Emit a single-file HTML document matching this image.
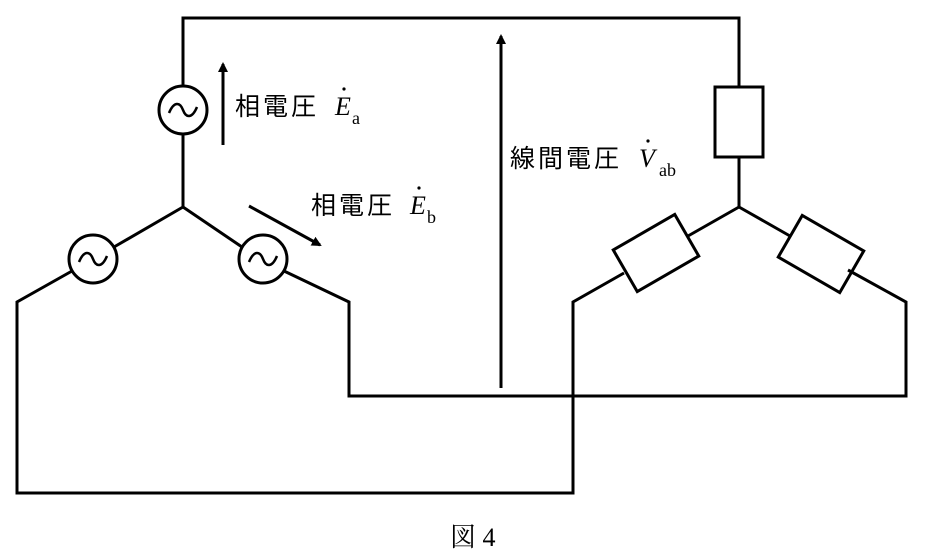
<!DOCTYPE html>
<html><head><meta charset="utf-8"><style>
html,body{margin:0;padding:0;background:#fff;}
svg{display:block;}
.jp{font-family:"Liberation Sans","Noto Sans CJK JP",sans-serif;font-size:25px;letter-spacing:3px;fill:#000;}
.m{font-family:"Liberation Serif","Noto Serif CJK SC",serif;font-style:italic;font-size:26px;fill:#000;}
.s{font-family:"Liberation Serif",serif;font-size:18px;fill:#000;}
</style></head><body>
<svg width="927" height="557" viewBox="0 0 927 557" xmlns="http://www.w3.org/2000/svg">
<defs><marker id="ah" markerWidth="10" markerHeight="10" refX="8" refY="5" orient="auto" markerUnits="userSpaceOnUse"><path d="M0,0 L10,5 L0,10 z" fill="#000"/></marker></defs>
<g fill="none" stroke="#000" stroke-width="3">
<polyline points="183,86 183,18 739,18 739,87"/>
<line x1="183" y1="134" x2="183" y2="207"/>
<line x1="183" y1="207" x2="114" y2="247"/>
<polyline points="72,271 17,302 17,493 573,493 573,302 624,273"/>
<line x1="183" y1="207" x2="242" y2="247"/>
<polyline points="284,271 349,302 349,396 906,396 906,302 848,270"/>
<circle cx="183" cy="110" r="24"/>
<circle cx="93" cy="259" r="24"/>
<circle cx="263" cy="259" r="24"/>
<rect x="715" y="87" width="48" height="70"/>
<line x1="739" y1="157" x2="739" y2="207"/>
<line x1="739" y1="207" x2="688" y2="236"/>
<line x1="739" y1="207" x2="790" y2="236"/>
<rect x="-35.5" y="-24" width="71" height="48" transform="translate(656,253) rotate(-30)"/>
<rect x="-35.5" y="-24" width="71" height="48" transform="translate(821,254) rotate(30)"/>
</g>
<g fill="none" stroke="#000" stroke-width="2.5">
<path d="M169,113 C174,101 180,102 183,110 C186,118 192,119 197,107"/>
<path d="M79,262 C84,250 90,251 93,259 C96,267 102,268 107,256"/>
<path d="M249,262 C254,250 260,251 263,259 C266,267 272,268 277,256"/>
</g>
<g stroke="#000" stroke-width="3">
<line x1="223" y1="145" x2="223" y2="64" marker-end="url(#ah)"/>
<line x1="249" y1="206" x2="320" y2="245" marker-end="url(#ah)"/>
<line x1="501" y1="388" x2="501" y2="36" marker-end="url(#ah)"/>
</g>
<text x="235" y="115" class="jp">相電圧</text>
<text x="335" y="115" class="m">E</text><circle cx="344" cy="89" r="1.6"/><text x="352" y="124" class="s">a</text>
<text x="311" y="214" class="jp">相電圧</text>
<text x="410" y="214" class="m">E</text><circle cx="419" cy="188" r="1.6"/><text x="427" y="223" class="s">b</text>
<text x="510" y="167" class="jp">線間電圧</text>
<text x="639" y="167" class="m">V</text><circle cx="648" cy="141" r="1.6"/><text x="659" y="176" class="s">ab</text>
<text x="450" y="546" style="font-family:'Liberation Serif','Noto Serif CJK SC',serif;font-size:26px;">図 4</text>
</svg>
</body></html>
